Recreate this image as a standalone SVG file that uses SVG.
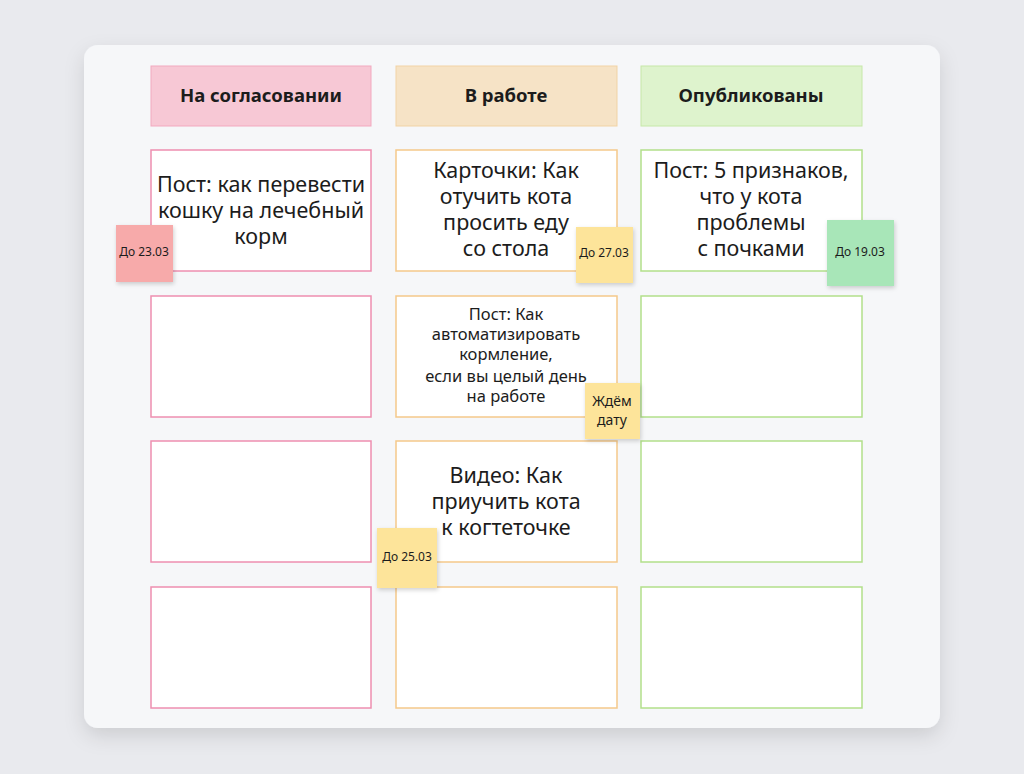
<svg xmlns="http://www.w3.org/2000/svg" width="1024" height="774" viewBox="0 0 1024 774">
<defs>
<filter id="sh" x="-20%" y="-20%" width="140%" height="150%"><feDropShadow dx="0" dy="8" stdDeviation="10" flood-color="#000" flood-opacity="0.12"/></filter>
<filter id="ss" x="-30%" y="-30%" width="160%" height="160%"><feDropShadow dx="1" dy="2" stdDeviation="2" flood-color="#000" flood-opacity="0.18"/></filter>
</defs>
<style>
text{font-family:"Noto Sans","Liberation Sans",sans-serif;fill:#1c1c1c;text-anchor:middle}
.h{font-weight:bold;font-size:18.5px}
.c{font-size:21.5px}
.s{font-size:16.5px}
.n{font-size:12px}
.card{fill:#fff;stroke-width:1.5}
.p{stroke:#ee8fb0}.o{stroke:#f5c98a}.g{stroke:#b2e08a}
</style>
<rect width="1024" height="774" fill="#e9eaee"/>
<rect x="84" y="45" width="856" height="683" rx="14" fill="#f6f7f9" filter="url(#sh)"/>
<g id="col-headers">
<g id="h1"><rect x="151" y="66" width="220" height="60" fill="#f7c8d5" stroke="#f2a9bf"/><text class="h" x="261" y="102">На согласовании</text></g>
<g id="h2"><rect x="396" y="66" width="221" height="60" fill="#f6e3c6" stroke="#f1d3a5"/><text class="h" x="506" y="102">В работе</text></g>
<g id="h3"><rect x="641" y="66" width="221" height="60" fill="#def3cd" stroke="#c6e8a8"/><text class="h" x="751" y="102">Опубликованы</text></g>
</g>
<g id="cards">
<g id="c11"><rect class="card p" x="151" y="150" width="220" height="121"/><text class="c" x="261" y="192">Пост: как перевести</text><text class="c" x="261" y="218">кошку на лечебный</text><text class="c" x="261" y="244">корм</text></g>
<g id="c12"><rect class="card o" x="396" y="150" width="221" height="121"/><text class="c" x="506" y="178">Карточки: Как</text><text class="c" x="506" y="204">отучить кота</text><text class="c" x="506" y="230">просить еду</text><text class="c" x="506" y="256">со стола</text></g>
<g id="c13"><rect class="card g" x="641" y="150" width="221" height="121"/><text class="c" x="751" y="178">Пост: 5 признаков,</text><text class="c" x="751" y="204">что у кота</text><text class="c" x="751" y="230">проблемы</text><text class="c" x="751" y="256">с почками</text></g>
<g id="c21"><rect class="card p" x="151" y="296" width="220" height="121"/></g>
<g id="c22"><rect class="card o" x="396" y="296" width="221" height="121"/><text class="s" x="506" y="320">Пост: Как</text><text class="s" x="506" y="340">автоматизировать</text><text class="s" x="506" y="360">кормление,</text><text class="s" x="506" y="382">если вы целый день</text><text class="s" x="506" y="402">на работе</text></g>
<g id="c23"><rect class="card g" x="641" y="296" width="221" height="121"/></g>
<g id="c31"><rect class="card p" x="151" y="441" width="220" height="121"/></g>
<g id="c32"><rect class="card o" x="396" y="441" width="221" height="121"/><text class="c" x="506" y="483">Видео: Как</text><text class="c" x="506" y="509">приучить кота</text><text class="c" x="506" y="535">к когтеточке</text></g>
<g id="c33"><rect class="card g" x="641" y="441" width="221" height="121"/></g>
<g id="c41"><rect class="card p" x="151" y="587" width="220" height="121"/></g>
<g id="c42"><rect class="card o" x="396" y="587" width="221" height="121"/></g>
<g id="c43"><rect class="card g" x="641" y="587" width="221" height="121"/></g>
</g>
<g id="stickies">
<g id="st1"><rect x="116" y="225" width="57" height="57" fill="#f7aaaa" filter="url(#ss)"/><text class="n" x="144" y="256">До 23.03</text></g>
<g id="st2"><rect x="576" y="227" width="57" height="56" fill="#fde49a" filter="url(#ss)"/><text class="n" x="604" y="257">До 27.03</text></g>
<g id="st3"><rect x="827" y="220" width="67" height="66" fill="#a8e6b8" filter="url(#ss)"/><text class="n" x="860" y="256">До 19.03</text></g>
<g id="st4"><rect x="585" y="383" width="55" height="56" fill="#fde49a" filter="url(#ss)"/><text class="n" x="612" y="406" style="font-size:14px">Ждём</text><text class="n" x="612" y="425" style="font-size:14px">дату</text></g>
<g id="st5"><rect x="377" y="528" width="60" height="60" fill="#fde49a" filter="url(#ss)"/><text class="n" x="407" y="561">До 25.03</text></g>
</g>
<g id="connectors"/>
</svg>
